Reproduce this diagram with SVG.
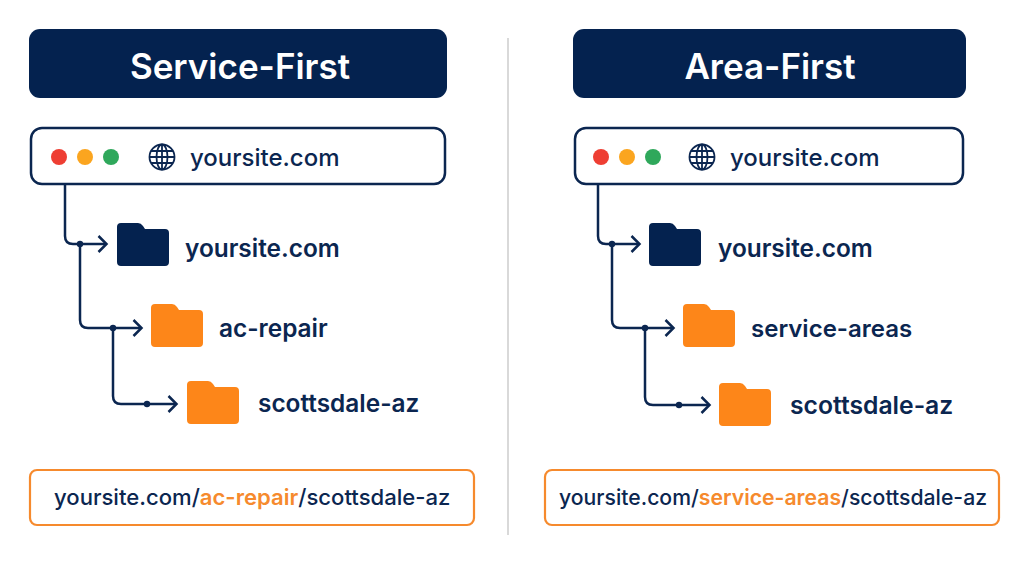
<svg xmlns="http://www.w3.org/2000/svg" width="1024" height="576" viewBox="0 0 1024 576">
<style>
text{font-family:Inter,"Liberation Sans",sans-serif;fill:#0b2650}
.h{fill:#04224f}
.ht{fill:#fff;font-size:35px;font-weight:600;text-anchor:middle}
.bar{fill:#fff;stroke:#0b2650;stroke-width:2.5}
.url{font-size:24px;font-weight:500}
.lbl{font-size:24.4px;font-weight:600}
.path{font-size:22.2px;font-weight:500}
.or{fill:#f68a2d;font-weight:600}
.box{fill:#fff;stroke:#f68a2d;stroke-width:2.2}
.c{fill:none;stroke:#0b2650;stroke-width:2.5}
.d{fill:#0b2650}
.g{fill:none;stroke:#0b2650;stroke-width:1.8}
.fo{fill:#fd8619}
</style>
<defs>
<path id="folder" d="M4 0H21Q24 0 26 3L28 6H48a4 4 0 0 1 4 4V39a4 4 0 0 1-4 4H4a4 4 0 0 1-4-4V4a4 4 0 0 1 4-4z"/>
<g id="globe"><circle cx="0" cy="0" r="12.5" class="g"/><ellipse cx="0" cy="0" rx="5.5" ry="12.5" class="g"/><path d="M0-12.5V12.5M-12.5 0H12.5M-11-6H11M-11 6H11" class="g"/></g>
<marker id="arr" markerWidth="14" markerHeight="20" refX="10.5" refY="9" orient="auto" markerUnits="userSpaceOnUse"><path d="M3 1L11 9L3 17" fill="none" stroke="#0b2650" stroke-width="2.5"/></marker>
</defs>
<path d="M508 38V535" stroke="#d9d9d9" stroke-width="2" fill="none"/>
<g id="connectors">
<path class="c" marker-end="url(#arr)" d="M65 184V236q0 8 8 8H106"/>
<path class="c" marker-end="url(#arr)" d="M80 244V320q0 8 8 8H141"/>
<path class="c" marker-end="url(#arr)" d="M113 328V396q0 8 8 8H176"/>
<circle class="d" cx="80" cy="244" r="3.2"/><circle class="d" cx="113" cy="328" r="3.2"/><circle class="d" cx="147" cy="404" r="3.2"/>
<path class="c" marker-end="url(#arr)" d="M598 184V236q0 8 8 8H639"/>
<path class="c" marker-end="url(#arr)" d="M612 244V320q0 8 8 8H673"/>
<path class="c" marker-end="url(#arr)" d="M645 328V397q0 8 8 8H709"/>
<circle class="d" cx="612" cy="244" r="3.2"/><circle class="d" cx="645" cy="328" r="3.2"/><circle class="d" cx="679" cy="405" r="3.2"/>
</g>
<g id="service-first-header"><rect class="h" x="29" y="29" width="418" height="69" rx="11"/><text class="ht" x="240" y="79">Service-First</text></g>
<g id="area-first-header"><rect class="h" x="573" y="29" width="393" height="69" rx="11"/><text class="ht" x="770" y="79">Area-First</text></g>
<g id="left-browser"><rect class="bar" x="31" y="128" width="414" height="56" rx="11"/>
<circle cx="59" cy="157" r="8" fill="#ee3e33"/><circle cx="85" cy="157" r="8" fill="#fba51f"/><circle cx="111" cy="157" r="8" fill="#2fa85b"/>
<use href="#globe" x="162" y="157"/><text class="url" x="190" y="166">yoursite.com</text></g>
<g id="right-browser"><rect class="bar" x="575" y="128" width="388" height="56" rx="11"/>
<circle cx="601" cy="157" r="8" fill="#ee3e33"/><circle cx="627" cy="157" r="8" fill="#fba51f"/><circle cx="653" cy="157" r="8" fill="#2fa85b"/>
<use href="#globe" x="702" y="157"/><text class="url" x="730" y="166">yoursite.com</text></g>
<g id="left-root"><use href="#folder" x="117" y="223" class="h"/><text class="lbl" x="185" y="257">yoursite.com</text></g>
<g id="left-ac-repair"><use href="#folder" x="151" y="304" class="fo"/><text class="lbl" x="219" y="337">ac-repair</text></g>
<g id="left-scottsdale"><use href="#folder" x="187" y="381" class="fo"/><text class="lbl" x="258" y="412">scottsdale-az</text></g>
<g id="right-root"><use href="#folder" x="649" y="223" class="h"/><text class="lbl" x="718" y="257">yoursite.com</text></g>
<g id="right-service-areas"><use href="#folder" x="683" y="304" class="fo"/><text class="lbl" x="751" y="337" style="font-size:24px">service-areas</text></g>
<g id="right-scottsdale"><use href="#folder" x="719" y="383" class="fo"/><text class="lbl" x="790" y="414" style="font-size:24.7px">scottsdale-az</text></g>
<g id="left-url"><rect class="box" x="30" y="470" width="444" height="55" rx="7"/><text class="path" x="54" y="505" style="font-size:22.1px">yoursite.com/<tspan class="or">ac-repair</tspan>/scottsdale-az</text></g>
<g id="right-url"><rect class="box" x="545" y="470" width="454" height="55" rx="7"/><text class="path" x="559" y="505" style="font-size:21.2px">yoursite.com/<tspan class="or">service-areas</tspan>/scottsdale-az</text></g>
</svg>
